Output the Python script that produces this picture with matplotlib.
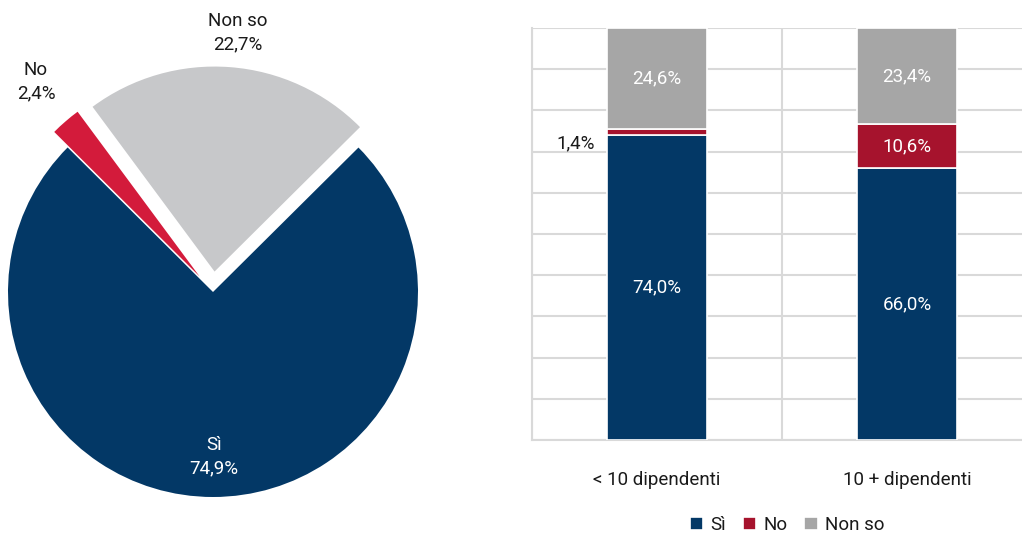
import matplotlib
matplotlib.use("Agg")
import matplotlib.pyplot as plt
import numpy as np

plt.rcParams['font.family'] = ['Roboto', 'DejaVu Sans']

# Pie data
pie_labels = ["Sì", "No", "Non so"]
pie_values = [74.9, 2.4, 22.7]
pie_colors = ["#033866", "#D31B3B", "#C7C8CA"]
pie_explode = [0.0, 0.1, 0.1]

# Bar data
categories = ["< 10 dipendenti", "10 + dipendenti"]
series_names = ["Sì", "No", "Non so"]
si_vals = [74.0, 66.0]
no_vals = [1.4, 10.6]
nonso_vals = [24.6, 23.4]
bar_colors = ["#033866", "#A6132D", "#A6A6A6"]

W, H = 1022, 540
FS = 13.5
TXT = '#1A1A1A'
fig = plt.figure(figsize=(W/100, H/100), dpi=100)

# ---- Pie ----
R = 205
cx, cy = 213, 292
half = 1.3 * R
axp = fig.add_axes([(cx - half)/W, (H - cy - half)/H, 2*half/W, 2*half/H])
wedges, _ = axp.pie(pie_values, colors=pie_colors, explode=pie_explode,
                    startangle=44.8, counterclock=False, radius=1.0,
                    wedgeprops=dict(linewidth=0))
axp.set_xlim(-1.3, 1.3)
axp.set_ylim(-1.3, 1.3)
axp.set_aspect('auto')
axp.axis('off')

def px2d(x, y):
    return ((x - cx)/R, (cy - y)/R)

lab_pos = [(214, 457, 'white'), (36, 82, TXT), (238, 33, TXT)]
for (lx, ly, col), name, v in zip(lab_pos, pie_labels, pie_values):
    dx, dy = px2d(lx, ly)
    axp.text(dx, dy, f"{name}\n{v:.1f}%".replace('.', ','), ha='center', va='center',
             color=col, fontsize=FS, linespacing=1.4, clip_on=False)

# ---- Bars ----
left, right, top, bottom = 532, 1032, 28, 440
axb = fig.add_axes([left/W, (H - bottom)/H, (right - left)/W, (bottom - top)/H])
x = np.arange(len(categories))
bw = 0.4
b1 = axb.bar(x, si_vals, bw, color=bar_colors[0], edgecolor='white', linewidth=1.2, zorder=3, label=series_names[0])
b2 = axb.bar(x, no_vals, bw, bottom=si_vals, color=bar_colors[1], edgecolor='white', linewidth=1.2, zorder=3, label=series_names[1])
bot3 = [a + b for a, b in zip(si_vals, no_vals)]
b3 = axb.bar(x, nonso_vals, bw, bottom=bot3, color=bar_colors[2], edgecolor='white', linewidth=1.2, zorder=3, label=series_names[2])

axb.set_xlim(-0.5, 1.5)
axb.set_ylim(0, 100)
axb.set_yticks(np.arange(0, 101, 10))
axb.set_yticklabels([])
axb.tick_params(axis='y', length=0)
axb.set_xticks(x)
axb.set_xticklabels(categories, fontsize=FS, color=TXT)
axb.tick_params(axis='x', length=0, pad=22)
axb.grid(axis='y', color='#D9D9D9', linewidth=1.5, zorder=0)
for xv in [-0.5, 0.5, 1.5]:
    axb.axvline(xv, color='#D9D9D9', linewidth=1.5, zorder=0)
for s in ['top', 'right']:
    axb.spines[s].set_visible(False)
for s in ['left', 'bottom']:
    axb.spines[s].set_color('#D9D9D9')
    axb.spines[s].set_linewidth(1.5)

def fmt(v):
    return f"{v:.1f}%".replace('.', ',')

for i in range(len(categories)):
    axb.text(x[i], si_vals[i]/2, fmt(si_vals[i]), ha='center', va='center', color='white', fontsize=FS, zorder=4)
    if no_vals[i] > 5:
        axb.text(x[i], si_vals[i] + no_vals[i]/2, fmt(no_vals[i]), ha='center', va='center', color='white', fontsize=FS, zorder=4)
    else:
        axb.text(x[i] - bw/2 - 0.05, si_vals[i] - 2.0, fmt(no_vals[i]), ha='right', va='center', color=TXT, fontsize=FS, zorder=4)
    axb.text(x[i], bot3[i] + nonso_vals[i]/2, fmt(nonso_vals[i]), ha='center', va='center', color='white', fontsize=FS, zorder=4)

leg = fig.legend(handles=[b1, b2, b3], labels=series_names, loc='center', bbox_to_anchor=(787/W, 1 - 525/H),
                 ncol=3, frameon=False, fontsize=FS, handlelength=0.7, handleheight=0.7,
                 handletextpad=0.4, columnspacing=0.9)
for t in leg.get_texts():
    t.set_color(TXT)

fig.savefig("out.png", dpi=100)
